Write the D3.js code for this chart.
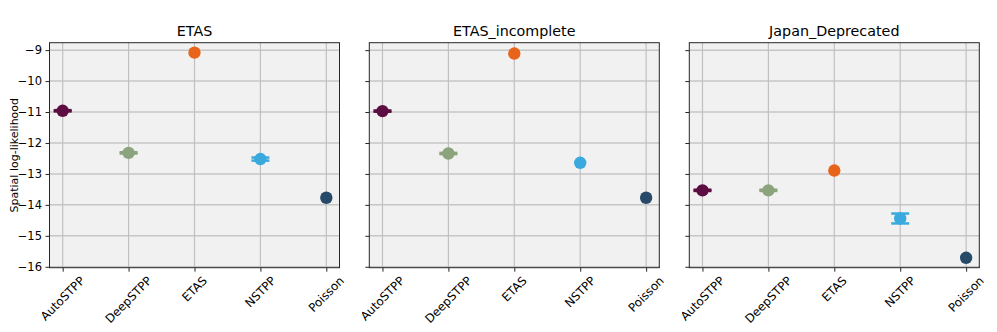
<!DOCTYPE html>
<meta charset="utf-8">
<style>
body { margin: 0; background: #fff; }
text { font-family: "DejaVu Sans", sans-serif; fill: #000; }
</style>
<body>
<script src="https://cdn.jsdelivr.net/npm/d3@7"></script>
<script>

var models = ["AutoSTPP", "DeepSTPP", "ETAS", "NSTPP", "Poisson"]
var colors = ["#5c0e42", "#8ca47d", "#e8641b", "#3aa9de", "#264a68"]
var datasets = ["ETAS", "ETAS_incomplete", "Japan_Deprecated"]
var yTicks = [-16, -15, -14, -13, -12, -11, -10, -9]

// mean spatial log-likelihood per dataset, in model order
var meanETAS = [-10.96, -12.32, -9.08, -12.52, -13.77]
var meanIncomplete = [-10.97, -12.34, -9.11, -12.64, -13.77]
var meanJapan = [-13.53, -13.53, -12.89, -14.44, -15.71]
// error bar half-widths
var errETAS = [0.02, 0.02, 0, 0.05, 0]
var errIncomplete = [0.02, 0.02, 0, 0, 0]
var errJapan = [0.02, 0.02, 0, 0.16, 0]

var means = [meanETAS, meanIncomplete, meanJapan]
var errs = [errETAS, errIncomplete, errJapan]

var width = 997, height = 332
var svg = d3.select("body").append("svg")
    .attr("width", width)
    .attr("height", height)

var panelLeft = [49.5, 369.3, 689.3]
var panelW = 290
var plotTop = 42.7, plotBottom = 267.7

var y = d3.scaleLinear().domain([-16.03, -8.76]).range([plotBottom, plotTop])

datasets.forEach(function(name, p) {
  var x = d3.scaleLinear().domain([-0.2, 4.2]).range([panelLeft[p], panelLeft[p] + panelW])
  var g = svg.append("g")

  g.append("rect")
    .attr("x", panelLeft[p]).attr("y", plotTop)
    .attr("width", panelW).attr("height", plotBottom - plotTop)
    .attr("fill", "#f1f1f1")

  // grid
  g.selectAll(".hgrid").data(yTicks).enter().append("line")
    .attr("x1", panelLeft[p]).attr("x2", panelLeft[p] + panelW)
    .attr("y1", d => y(d)).attr("y2", d => y(d))
    .attr("stroke", "#c6c6c6").attr("stroke-width", 1.5)
  g.selectAll(".vgrid").data(models).enter().append("line")
    .attr("x1", (d, i) => x(i)).attr("x2", (d, i) => x(i))
    .attr("y1", plotTop).attr("y2", plotBottom)
    .attr("stroke", "#c0c0c0").attr("stroke-width", 1.2)

  // error bars
  var eb = g.selectAll(".eb").data(models).enter().append("g")
  eb.append("line")
    .attr("x1", (d, i) => x(i)).attr("x2", (d, i) => x(i))
    .attr("y1", (d, i) => y(means[p][i] - errs[p][i]))
    .attr("y2", (d, i) => y(means[p][i] + errs[p][i]))
    .attr("stroke", (d, i) => colors[i]).attr("stroke-width", 2.5)
  ;[-1, 1].forEach(function(s) {
    eb.filter((d, i) => errs[p][i] > 0).append("line")
      .attr("x1", function(d) { return x(models.indexOf(d)) - 9 })
      .attr("x2", function(d) { return x(models.indexOf(d)) + 9 })
      .attr("y1", function(d) { var i = models.indexOf(d); return y(means[p][i] + s * errs[p][i]) })
      .attr("y2", function(d) { var i = models.indexOf(d); return y(means[p][i] + s * errs[p][i]) })
      .attr("stroke", function(d) { return colors[models.indexOf(d)] })
      .attr("stroke-width", 2.5)
  })

  g.selectAll(".pt").data(models).enter().append("circle")
    .attr("cx", (d, i) => x(i))
    .attr("cy", (d, i) => y(means[p][i]))
    .attr("r", 6.2)
    .attr("fill", (d, i) => colors[i])

  // frame
  g.append("rect")
    .attr("x", panelLeft[p]).attr("y", plotTop)
    .attr("width", panelW).attr("height", plotBottom - plotTop)
    .attr("fill", "none").attr("stroke", "#262626").attr("stroke-width", 1)

  // y axis
  var yAxis = d3.axisLeft(y).tickValues(yTicks).tickSize(4).tickPadding(3.5)
    .tickFormat(p == 0 ? (d => "\u2212" + Math.abs(d)) : "")
  var ya = g.append("g").attr("transform", "translate(" + panelLeft[p] + ",0)").call(yAxis)
  ya.select(".domain").remove()
  ya.selectAll("text").style("font-size", "11.5px")
  ya.selectAll("line").attr("stroke", "#262626")

  // x axis
  var xAxis = d3.axisBottom(x).tickValues([0, 1, 2, 3, 4]).tickSize(4).tickFormat("")
  var xa = g.append("g").attr("transform", "translate(0," + plotBottom + ")").call(xAxis)
  xa.select(".domain").remove()
  xa.selectAll("line").attr("stroke", "#262626")

  models.forEach(function(m, i) {
    var t = g.append("text")
      .attr("text-anchor", "middle")
      .attr("dominant-baseline", "central")
      .style("font-size", "11.8px")
      .text(m)
    var w = t.node().getComputedTextLength()
    var boxH = (w + 11) * Math.SQRT1_2
    var cx = x(i), cy = plotBottom + 7 + boxH / 2
    t.attr("transform", "translate(" + cx + "," + cy + ") rotate(-45)")
  })

  g.append("text")
    .attr("x", panelLeft[p] + panelW / 2)
    .attr("y", 36)
    .attr("text-anchor", "middle")
    .style("font-size", "14.3px")
    .text(name)
})

svg.append("text")
  .attr("transform", "translate(18," + (plotTop + plotBottom) / 2 + ") rotate(-90)")
  .attr("text-anchor", "middle")
  .style("font-size", "11px")
  .text("Spatial log-likelihood")

</script>
